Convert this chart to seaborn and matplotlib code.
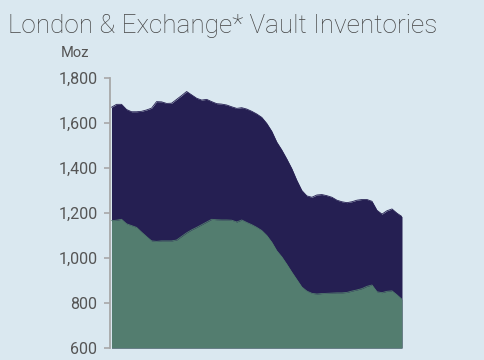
import numpy as np
import pandas as pd
import matplotlib
matplotlib.use("Agg")
import matplotlib.pyplot as plt
import seaborn as sns

# monthly points (Moz)
total = [1670, 1683, 1683, 1660, 1650, 1650, 1652, 1658, 1666, 1695,
         1694, 1687, 1688, 1705, 1722, 1740, 1725, 1710, 1702, 1705,
         1695, 1686, 1684, 1680, 1672, 1665, 1668, 1662, 1652, 1640,
         1625, 1598, 1563, 1515, 1480, 1440, 1397, 1345, 1300, 1276,
         1270, 1280, 1282, 1277, 1270, 1257, 1250, 1246, 1250, 1257,
         1260, 1260, 1252, 1212, 1195, 1210, 1218, 1199, 1184]
london = [1166, 1168, 1172, 1152, 1144, 1136, 1115, 1095, 1076, 1074,
          1076, 1076, 1076, 1080, 1096, 1112, 1125, 1136, 1148, 1160,
          1172, 1170, 1169, 1169, 1168, 1160, 1169, 1158, 1148, 1136,
          1122, 1100, 1070, 1032, 1005, 972, 937, 904, 871, 853,
          843, 840, 842, 843, 844, 845, 845, 847, 853, 858,
          864, 874, 880, 850, 846, 852, 854, 836, 816]
months = list(range(len(total)))
yticks = [600, 800, 1000, 1200, 1400, 1600, 1800]

df = pd.DataFrame({"month": months, "total": total, "london": london})

bg = "#dae8f0"
navy = "#251f52"
green = "#537d6f"

sns.set_style("white", {"axes.facecolor": bg, "figure.facecolor": bg})
plt.rcParams["font.family"] = ["Roboto", "DejaVu Sans"]

fig = plt.figure(figsize=(4.85, 3.6), dpi=100)
ax = fig.add_axes([110 / 485, 12 / 360, (402 - 110) / 485, (348 - 78) / 360])

ax.fill_between(df["month"], 600, df["total"], color=navy, linewidth=0)
ax.fill_between(df["month"], 600, df["london"], color=green, linewidth=0)
sns.lineplot(data=df, x="month", y="total", ax=ax, color=navy, linewidth=0.6)
sns.lineplot(data=df, x="month", y="london", ax=ax, color=green, linewidth=0.6)

ax.set_xlim(months[0] - 0.3, months[-1])
ax.set_ylim(600, 1800)
ax.set_yticks(yticks)
ax.set_yticklabels([f"{v:,}" for v in yticks])
ax.set_xticks([])
ax.set_xlabel("")
ax.set_ylabel("")

for s in ["top", "right", "bottom"]:
    ax.spines[s].set_visible(False)
ax.spines["left"].set_color("#a8a8a8")
ax.spines["left"].set_linewidth(1.3)
ax.tick_params(axis="y", length=4, width=1.2, color="#a8a8a8",
               labelcolor="#555555", labelsize=11.5, pad=5, left=True)

fig.text(8 / 485, 1 - 26 / 360, "London & Exchange* Vault Inventories",
         fontsize=18.8, color="#444444", fontweight="light", va="center", ha="left")
fig.text(75 / 485, 1 - 53 / 360, "Moz", fontsize=10.5, color="#555555",
         va="center", ha="center")

fig.savefig("out.png", dpi=100, facecolor=bg)
